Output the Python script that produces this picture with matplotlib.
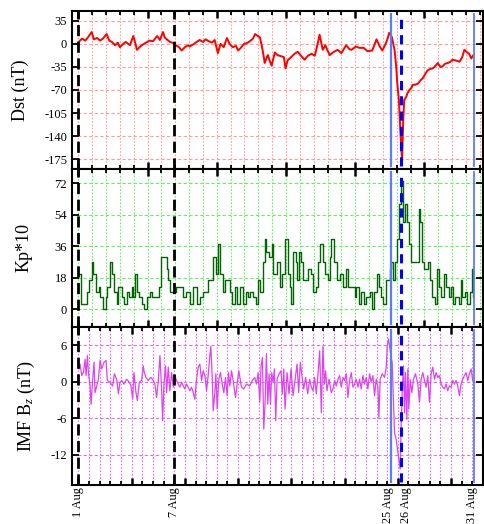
import matplotlib
matplotlib.use("Agg")
import matplotlib.pyplot as plt
from matplotlib.ticker import MultipleLocator, FixedLocator, NullFormatter
import matplotlib.transforms as mtransforms

# ---------------- data (x in hours since 1 Aug 00:00) ----------------
dst_hours = [1, 7, 13, 18, 25, 29, 35, 41, 46, 53, 58, 63, 69, 74, 78, 84, 89, 97, 103, 106,
             110, 116, 123, 129, 134, 140, 148, 153, 159, 162, 166, 172, 178, 183, 189, 194, 200,
             206, 209, 217, 222, 228, 234, 239, 245, 251, 256, 262, 267, 273, 279, 284, 290, 296,
             300, 305, 311, 316, 322, 328, 332, 337, 341, 346, 350, 354, 356, 359, 363, 367, 369,
             374, 382, 386, 389, 393, 397, 402, 406, 412, 418, 425, 431, 438, 444, 448, 453, 459,
             464, 468, 472, 480, 487, 494, 503, 509, 513, 521, 528, 536, 543, 552, 560, 566, 571,
             577, 580, 584, 589, 594, 597, 599, 602, 605, 608, 609, 610, 612, 616, 618, 622, 626,
             628, 633, 638, 643, 647, 652, 656, 661, 666, 671, 675, 680, 684, 689, 694, 699, 703,
             708, 716, 721, 725, 729, 734, 738, 742]
dst_vals = [3.5, 8, 5, 10, 18, 7, 9, 5, 8, 15, 5, 3, -2, 2, -5, 0, 3, -2, 12, 4,
            -9, -4, 0, 3, 5, 4, 12, 6, 18, 10, 7, 3, 1.5, -2, -5, -10, -5,
            -2, -4, 0, 3, 6, 3, 7, 4, 2, 6, -14, 0, -5, 9, 0, -5, -3,
            -10, -6, 0, 1, 4, 8, 15, 12, 10, -9, -29, -20, -17, -25, -33, -20, -13,
            -17, -19, -20, -37, -25, -22, -18, -15, -12, -18, -24, -18, -15, -18, -5, 14, -9,
            -2, -10, -17, -12, -9, -14, -2, -8, -9, -4, -6, -6, -11, -10, 7, -4, -10,
            0, 6, 17, 10, -10, -35, -60, -85, -136, -177, -150, -120, -85, -80, -75, -70, -66,
            -62, -62, -60, -55, -52, -45, -40, -38, -37, -33, -29, -35, -34, -30, -29, -27, -24,
            -25, -27, -20, -9, -12, -15, -22, -17]

kp_hours = [1, 4, 13, 16, 19, 25, 28, 34, 38, 41, 47, 52, 54, 59, 64, 67, 72, 75, 81, 86,
            91, 96, 100, 103, 107, 110, 114, 119, 123, 128, 134, 139, 144, 148, 152, 156, 163,
            166, 169, 173, 178, 183, 191, 197, 203, 209, 216, 222, 228, 234, 244, 250, 253, 258,
            262, 266, 272, 275, 281, 285, 289, 294, 298, 303, 309, 315, 319, 323, 328, 333, 338,
            342, 347, 350, 353, 358, 363, 366, 371, 374, 378, 383, 389, 394, 397, 400, 403, 408,
            411, 414, 419, 422, 427, 431, 436, 441, 446, 450, 454, 459, 464, 469, 472, 475, 480,
            485, 491, 497, 502, 506, 511, 516, 519, 522, 527, 531, 536, 541, 547, 552, 556, 561,
            565, 569, 573, 578, 585, 588, 591, 594, 598, 602, 606, 609, 613, 617, 621, 625, 628,
            634, 639, 642, 646, 650, 656, 661, 665, 669, 673, 678, 681, 686, 691, 696, 700, 704,
            708, 714, 718, 721, 727, 730, 735, 739, 742]
kp_vals = [20, 3, 3, 10, 17, 27, 20, 10, 13, 7, 0, 7, 13, 27, 20, 10, 3, 13, 7, 3,
           10, 7, 13, 7, 20, 10, 7, 3, 0, 7, 10, 7, 7, 7, 13, 30, 30,
           23, 17, 10, 10, 13, 13, 7, 10, 3, 13, 3, 7, 10, 17, 17, 30, 20,
           37, 20, 10, 17, 17, 10, 3, 13, 3, 13, 3, 10, 7, 10, 7, 3, 17,
           10, 27, 40, 33, 30, 37, 20, 20, 27, 13, 20, 40, 20, 13, 3, 33, 27,
           17, 33, 27, 17, 17, 23, 20, 10, 13, 27, 37, 27, 20, 17, 30, 40, 27,
           17, 20, 13, 23, 13, 13, 13, 7, 13, 3, 10, 3, 7, 10, 0, 10, 20,
           13, 7, 3, 17, 23, 27, 17, 27, 40, 60, 73, 50, 60, 50, 37, 27, 27,
           27, 57, 50, 27, 23, 27, 17, 7, 3, 23, 13, 7, 20, 13, 7, 13, 3,
           7, 3, 17, 7, 10, 3, 10, 23, 7]

bz_hours = [1.3, 3.2, 6.3, 9.4, 12.6, 14.4, 16.9, 18.8, 21.9, 23.8, 26.9, 29.4, 31.3, 34.4, 37.6,
            40.7, 43.8, 48.2, 51.9, 54.4, 59.4, 64.4, 67.6, 71.9, 75.1, 78.2, 81.3, 85.7, 90.7,
            95.7, 98.8, 101.9, 104.4, 108.2, 110.7, 114.4, 118.8, 121.9, 123.8, 126.9, 131.3,
            135.7, 139.4, 143.8, 146.9, 150.1, 153.2, 156.3, 158.2, 160.7, 163.8, 165.7, 168.8,
            171.9, 175.1, 178.2, 181.3, 184.4, 187.6, 190.7, 193.8, 196.9, 200.1, 203.2, 206.3,
            209.4, 212.6, 215.7, 218.8, 221.9, 225.1, 228.2, 231.3, 234.4, 237.6, 240.7, 243.8,
            246.9, 248.8, 251.3, 253.2, 256.3, 258.2, 260.7, 263.8, 266.9, 270.1, 273.2, 276.3,
            279.4, 281.9, 284.4, 287.6, 290.7, 295.1, 298.2, 301.3,
            306.3, 310.7, 315.7, 321.9, 326.9, 331.3, 334.4, 337.6, 340.7, 343.2, 345.7, 348.2,
            350.7, 353.2, 355.7, 358.2, 360.7, 363.2, 365.7, 368.2, 370.7, 373.2, 376.9, 380.7,
            383.2, 385.7, 388.2, 391.9, 395.7, 399.4, 403.2, 406.9, 410.7, 413.8, 416.9, 419.4,
            423.2, 426.9, 430.7, 434.4, 437.6, 440.7, 443.8, 446.9, 450.1, 453.2, 456.3, 459.4,
            461.9, 464.4, 466.9, 470.7, 475.1, 478.2, 481.3, 484.4, 487.6, 490.7, 493.8, 496.9,
            500.1, 503.2, 506.3, 509.4, 512.6, 515.7, 518.8, 521.9, 525.1, 528.2, 531.3, 534.4,
            537.6, 540.7, 543.8, 546.9, 550.1, 553.2, 556.3, 559.4, 562.6, 564.4, 566.9, 570.7,
            575.1, 578.2, 580.1, 582.6, 584.4, 587.6, 589.4, 591.9, 593.8, 596.9, 600.1, 602.6,
            604.4, 606.3, 608.2, 610.7, 612.6, 614.4, 616.9, 618.8, 620.7, 623.2, 626.3, 629.4,
            633.2, 637.6, 640.7, 643.8, 646.9, 650.1, 653.2, 656.3, 659.4, 662.6, 665.7, 668.8,
            671.9, 675.1, 678.2, 681.3, 684.4, 687.6, 690.7, 693.8, 696.9, 700.1, 703.2, 706.3,
            709.4, 712.6, 715.7, 718.8, 721.9, 725.1, 728.2, 731.3, 734.4, 737.6, 740.7]
bz_vals = [2.1, 2.9, 1.0, 1.5, 3.7, 1.0, 4.3, 1.5, -0.7, -3.7, 0.4, 3.2, -1.8, -0.7, 0.4,
           3.5, 2.1, 3.2, 3.5, 0.2, -0.1, -0.7, 1.3, 0.4, -2.0, -0.1, 0.2, -0.4, 0.4,
           -0.1, -0.7, -2.9, 1.5, -1.8, -3.1, -0.1, 0.2, 2.6, 1.5, 0.7, 0.2,
           0.7, 0.4, -0.4, -2.6, 0.2, 4.3, -1.2, -6.4, -0.4, 2.6, -1.8, 2.4,
           -1.5, 1.5, -0.9, 1.0, 0.2, -0.4, -0.9, -0.1, -0.7, -1.2, -0.4, -0.9,
           -1.5, -0.9, -1.8, -2.9, 0.4, 2.4, 2.9, 0.2, 1.8, 1.0, -1.5, 1.0,
           4.3, 5.8, 1.0, -4.8, -1.8, 1.3, -4.5, 0.4, 1.5, -0.4, -1.8, 0.7,
           -2.3, 1.5, -0.7, 1.8, 0.2, -2.6, -0.4, 1.8,
           -0.9, -1.2, -0.4, -0.7, 0.2, 0.7, -0.4, 1.5, -3.4, 2.6, 4.0, -7.8,
           -3.4, 4.6, -3.7, 1.3, -3.7, 1.5, -0.1, 2.1, -6.4, 0.4, 1.3, 1.8,
           -2.0, 2.1, -4.5, 1.5, -2.0, 2.1, -2.3, 0.2, 2.9, -1.8, 3.2, 1.3,
           -1.2, 0.7, -2.0, 0.4, -0.9, -1.5, 0.7, -2.0, 1.3, 5.1, -5.1, 5.8,
           -0.4, 1.8, -1.5, 0.4, -1.8, -1.2, 0.2, -0.7, 0.4, 1.0, -0.9, 0.7,
           0.2, 1.3, -2.6, 0.2, 1.5, -0.9, -0.4, 0.4, -0.9, 0.4, -1.2, 1.0,
           -0.4, 0.7, -1.2, 1.3, -0.1, 1.0, -2.3, 0.4, -0.9, -5.9, 0.4, 1.3,
           0.7, 2.4, 5.9, 7.0, 5.9, 4.0, 3.2, -3.4, -8.4, -9.5, -11.6, -13.3,
           -14.4, -7.3, -1.8, 2.6, -5.1, 1.5, -6.2, 2.1, -4.5, 0.4, -1.8, 0.4,
           1.3, -0.4, -3.4, 0.4, 1.5, 0.2, -0.9, 1.0, -3.4, 1.3, 2.4, 0.4,
           1.5, 0.7, 1.0, -0.4, -0.9, -1.2, -0.4, -1.5, -0.7, -0.9, 0.2, -0.4,
           0.2, -0.7, -2.3, -0.4, 0.4, 1.0, 1.5, 0.2, 1.3, 2.1, 0.2]

dst_ticks = [35, 0, -35, -70, -105, -140, -175]
kp_ticks = [0, 18, 36, 54, 72]
bz_ticks = [6, 0, -6, -12]

event_labels = ["1 Aug", "7 Aug", "25 Aug", "26 Aug", "31 Aug"]
event_label_hours = [0, 180, 581, 616, 740]
black_event_hours = [0, 180]
blue_solid_hours = [588, 744]
blue_dashed_hour = 606

# ---------------- figure ----------------
serif = ["Liberation Serif", "DejaVu Serif"]
plt.rcParams["font.family"] = serif
plt.rcParams["axes.unicode_minus"] = False
plt.rcParams["mathtext.fontset"] = "custom"
plt.rcParams["mathtext.rm"] = "Liberation Serif"
plt.rcParams["mathtext.it"] = "Liberation Serif:italic"

fig = plt.figure(figsize=(4.84, 5.24), dpi=100)
left, right = 72 / 484, 483 / 484
top, bottom = 1 - 11 / 524, 1 - 485 / 524
h = (top - bottom) / 3
axes = [fig.add_axes([left, bottom + (2 - i) * h, right - left, h]) for i in range(3)]
axw_px = (right - left) * 484

xlim = (-12, 760)
grid_colors = ["#ff9d9d", "#66ee66", "#e070ee"]
minor_steps = [26, 26, 20]
major_steps = [130, 130, 100]

for i, ax in enumerate(axes):
    ax.set_xlim(*xlim)
    ax.xaxis.set_major_locator(MultipleLocator(major_steps[i]))
    ax.xaxis.set_minor_locator(MultipleLocator(minor_steps[i]))
    ax.xaxis.set_major_formatter(NullFormatter())
    ax.tick_params(axis="both", which="both", direction="in", top=True, right=True,
                   bottom=True, left=True, labelsize=9, width=1.3)
    ax.tick_params(axis="x", which="major", length=5, width=1.8)
    ax.tick_params(axis="x", which="minor", length=3, width=1.3)
    ax.tick_params(axis="y", which="major", length=5, width=1.3)
    ax.tick_params(axis="y", labelright=False)
    for sp in ax.spines.values():
        sp.set_linewidth(1.5)
    ax.grid(True, axis="y", which="major", color=grid_colors[i], linestyle=(0, (3, 2)), lw=0.8)
    ax.grid(True, axis="x", which="both", color=grid_colors[i], linestyle=(0, (1.5, 1.5)), lw=0.8)
    ax.set_axisbelow(True)

ax1, ax2, ax3 = axes
ax1.plot(dst_hours, dst_vals, color="#ff0000", lw=1.4, zorder=3)
ax1.set_ylim(-190, 50)
ax1.yaxis.set_major_locator(FixedLocator(dst_ticks))
ax1.set_ylabel("Dst (nT)", fontsize=13, va="center")
ax1.yaxis.set_label_coords((20 - 72) / axw_px, 0.5)

ax2.step(kp_hours, kp_vals, where="post", color="#006400", lw=1.0, zorder=3)
ax2.set_ylim(-10, 80)
ax2.yaxis.set_major_locator(FixedLocator(kp_ticks))
ax2.set_ylabel("Kp*10", fontsize=13, va="center")
ax2.yaxis.set_label_coords((24 - 72) / axw_px, 0.5)

ax3.plot(bz_hours, bz_vals, color="#dd44ee", lw=0.9, zorder=3)
ax3.set_ylim(-17, 9)
ax3.yaxis.set_major_locator(FixedLocator(bz_ticks))
ax3.set_ylabel("IMF B$_z$ (nT)", fontsize=13, va="center")
ax3.yaxis.set_label_coords((26 - 72) / axw_px, 0.5)

for ax in axes:
    for xh in black_event_hours:
        ax.axvline(xh, color="black", lw=2, linestyle=(0, (4, 2)), zorder=4)
    ax.axvline(blue_solid_hours[0], ymin=0.02, ymax=0.98, color="#5b7cff", lw=1.6, zorder=4)
    ax.axvline(blue_solid_hours[1], ymin=0.02, ymax=0.98, color="#5b7cff", lw=1.3, zorder=4)
    ax.axvline(blue_dashed_hour, ymin=0.02, ymax=0.98, color="#0000ff", lw=2.2,
               linestyle=(0, (3, 2)), zorder=5)

trans = mtransforms.blended_transform_factory(ax3.transData, ax3.transAxes)
for lab, xh in zip(event_labels, event_label_hours):
    ax3.text(xh, -0.012, lab, transform=trans, rotation=90, ha="center", va="top",
             fontsize=8.8)

fig.savefig("out.png", dpi=100)
